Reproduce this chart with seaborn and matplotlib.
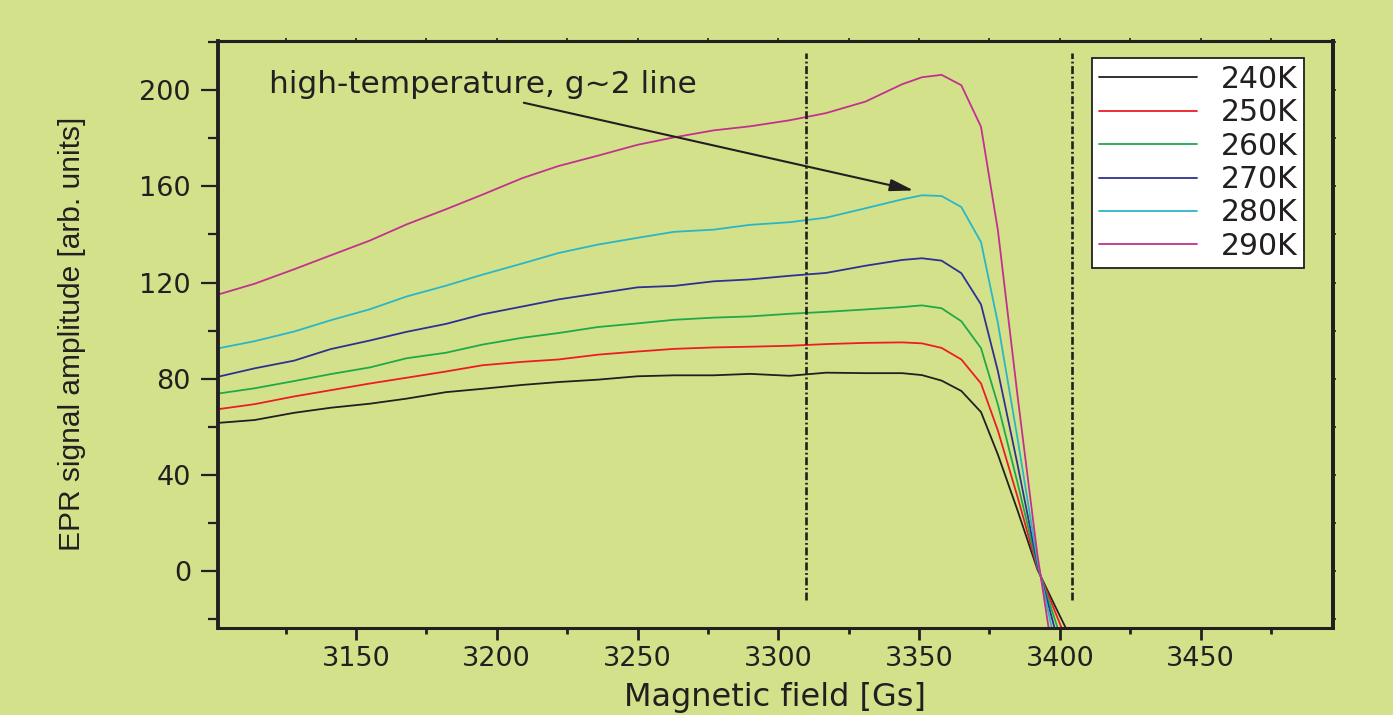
import matplotlib
matplotlib.use("Agg")
import matplotlib.pyplot as plt
from matplotlib.ticker import MultipleLocator
import seaborn as sns
import pandas as pd

# ---------------- data ----------------
field = [3101, 3114, 3128, 3141, 3155, 3168, 3182, 3195, 3209, 3222, 3236, 3250,
         3263, 3277, 3290, 3304, 3317, 3331, 3344, 3351, 3358, 3365, 3372, 3378,
         3385, 3392, 3399, 3406]

amp_240 = [61.6, 62.8, 65.8, 67.9, 69.6, 71.7, 74.4, 75.8, 77.4, 78.6, 79.6, 81.0,
           81.4, 81.4, 82.0, 81.2, 82.5, 82.3, 82.3, 81.5, 79.2, 74.9, 66.1, 48.4,
           25.1, 0.7, -16.3, -33.0]
amp_250 = [67.3, 69.4, 72.6, 75.2, 78.0, 80.4, 83.0, 85.6, 87.0, 88.0, 90.0, 91.3,
           92.4, 93.0, 93.3, 93.7, 94.4, 94.9, 95.1, 94.7, 92.8, 88.0, 78.0, 58.4,
           30.7, 1.3, -19.0, -39.0]
amp_260 = [73.8, 76.0, 79.0, 81.9, 84.7, 88.5, 90.8, 94.2, 97.0, 99.0, 101.5, 103.0,
           104.5, 105.4, 105.9, 107.0, 107.8, 108.8, 109.8, 110.5, 109.3, 103.9, 92.7, 69.2,
           36.5, 2.1, -22.9, -48.0]
amp_270 = [80.8, 84.3, 87.5, 92.3, 95.9, 99.5, 102.8, 106.8, 110.0, 113.0, 115.5, 118.0,
           118.6, 120.5, 121.3, 122.8, 124.0, 127.0, 129.4, 130.1, 129.1, 123.9, 110.9, 83.1,
           44.1, 3.0, -27.5, -58.0]
amp_280 = [92.6, 95.6, 99.6, 104.3, 108.9, 114.2, 118.7, 123.3, 127.9, 132.3, 135.8, 138.6,
           141.1, 142.0, 144.0, 145.1, 147.0, 150.9, 154.6, 156.3, 156.0, 151.4, 136.8, 103.1,
           54.9, 4.4, -34.0, -72.0]
amp_290 = [115.0, 119.5, 125.5, 131.3, 137.5, 144.2, 150.5, 156.6, 163.4, 168.5, 172.8, 177.3,
           180.4, 183.3, 185.0, 187.5, 190.5, 195.3, 202.5, 205.4, 206.4, 202.1, 184.8, 141.7,
           72.6, 7.0, -46.5, -100.0]

temperatures = ["240K", "250K", "260K", "270K", "280K", "290K"]
series = [amp_240, amp_250, amp_260, amp_270, amp_280, amp_290]
colors = ["#231f20", "#ed1c24", "#1fa94b", "#2e3192", "#2ab6c6", "#c2318f"]

marker_fields = [3310, 3404.3]      # dash-dot vertical lines
marker_span = [-12, 215.5]

annot_text = "high-temperature, g~2 line"
annot_text_pos = (3119.1, 198.8)
arrow_start = (3209.6, 194.8)
arrow_tip = (3348.1, 158.3)

xlabel = "Magnetic field [Gs]"
ylabel = "EPR signal amplitude [arb. units]"
xmajor = [3150, 3200, 3250, 3300, 3350, 3400, 3450]
ymajor = [0, 40, 80, 120, 160, 200]

# ---------------- style ----------------
sns.set_theme(style="ticks")
plt.rcParams['font.family'] = ['DejaVu Sans']
BG = "#d3e28a"
TXT = "#231f20"

rows = []
for t, vals in zip(temperatures, series):
    for f, v in zip(field, vals):
        rows.append({"field": f, "amp": v, "T": t})
df = pd.DataFrame(rows)

fig = plt.figure(figsize=(13.93, 7.15), dpi=100, facecolor=BG)
ax = fig.add_axes([0.1565, 0.1221, 0.8004, 0.8206])
ax.set_facecolor(BG)

sns.lineplot(data=df, x="field", y="amp", hue="T", hue_order=temperatures,
             palette=colors, estimator=None, sort=False, lw=1.3, ax=ax)

ax.set_xlim(3101, 3497)
ax.set_ylim(-23.6, 220.5)

# vertical dash-dot markers
for xv in marker_fields:
    ax.plot([xv, xv], marker_span, color=TXT, lw=1.9,
            linestyle=(0, (3.0, 1.0, 0.7, 1.0)), zorder=3)

# annotation
ax.text(annot_text_pos[0], annot_text_pos[1], annot_text, fontsize=22.5,
        color=TXT, ha="left", va="baseline")
ax.annotate("", xy=arrow_tip, xytext=arrow_start,
            arrowprops=dict(arrowstyle="-|>,head_length=1.1,head_width=0.28",
                            color=TXT, lw=1.5, shrinkA=0, shrinkB=0,
                            mutation_scale=13))

# ticks
ax.set_xticks(xmajor)
ax.set_yticks(ymajor)
ax.xaxis.set_minor_locator(MultipleLocator(25))
ax.yaxis.set_minor_locator(MultipleLocator(20))
ax.tick_params(axis="x", which="major", length=8.4, width=2.0, color=TXT,
               labelsize=19.5, labelcolor=TXT, pad=5, direction="out")
ax.tick_params(axis="x", which="minor", length=4.2, width=2.0, color=TXT,
               direction="out")
ax.tick_params(axis="y", which="major", length=12.5, width=1.6, color=TXT,
               labelsize=19.5, labelcolor=TXT, pad=7, direction="out")
ax.tick_params(axis="y", which="minor", length=7, width=1.6, color=TXT,
               direction="out")

for side in ["left", "right"]:
    ax.spines[side].set_linewidth(2.8)
    ax.spines[side].set_color(TXT)
for side in ["top", "bottom"]:
    ax.spines[side].set_linewidth(2.2)
    ax.spines[side].set_color(TXT)
    ax.spines[side].set_visible(True)
ax.spines["right"].set_visible(True)

# tiny mirror ticks on top/right
sec_x = ax.secondary_xaxis("top")
sec_x.set_xticks(list(range(3125, 3500, 25)))
sec_x.tick_params(length=2, width=1.2, color=TXT, labeltop=False)
sec_x.spines["top"].set_linewidth(2.2)
sec_x.spines["top"].set_color(TXT)
sec_y = ax.secondary_yaxis("right")
sec_y.set_yticks(list(range(-20, 221, 20)))
sec_y.tick_params(length=2, width=1.2, color=TXT, labelright=False)
sec_y.spines["right"].set_linewidth(2.8)
sec_y.spines["right"].set_color(TXT)

# axis labels
ax.set_xlabel(xlabel, fontsize=23, color=TXT, labelpad=7)
ax.set_ylabel(ylabel, fontsize=21.5, color=TXT, family=["Liberation Sans", "DejaVu Sans"])
ax.yaxis.label.set_verticalalignment("center")
ax.yaxis.set_label_coords(-0.131, 0.5)

# legend
old = ax.get_legend()
handles = old.legend_handles
labels = [t.get_text() for t in old.get_texts()]
old.remove()
leg = ax.legend(handles, labels, loc="upper left", bbox_to_anchor=(0.7839, 0.971),
                fontsize=21.5, frameon=True, fancybox=False, framealpha=1,
                facecolor="white", edgecolor=TXT, borderpad=0.22, labelspacing=0.15,
                handlelength=3.3, handletextpad=0.8, borderaxespad=0.0)
leg.get_frame().set_linewidth(1.3)
for t in leg.get_texts():
    t.set_color(TXT)
for h in leg.legend_handles:
    h.set_linewidth(1.3)

fig.savefig("out.png", dpi=100, facecolor=BG)
